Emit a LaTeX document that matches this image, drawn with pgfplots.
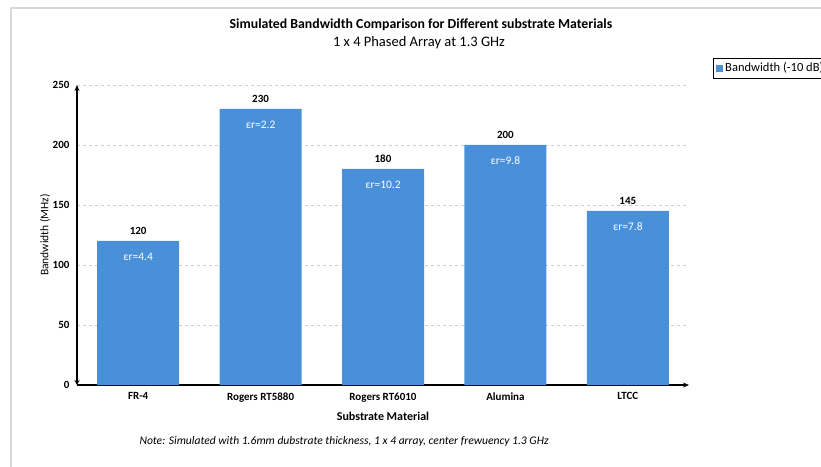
\documentclass[border=0pt]{standalone}
\usepackage{pgfplots}
\pgfplotsset{compat=1.18}
\usepackage{fontspec}
\setmainfont{Carlito}
\usetikzlibrary{arrows.meta}
\definecolor{barblue}{RGB}{74,144,217}
\definecolor{framegray}{RGB}{217,217,217}
\definecolor{gridgray}{RGB}{205,205,205}

\begin{document}
\begin{tikzpicture}[x=1pt,y=1pt]
\path[use as bounding box] (0,0) rectangle (821,466);
\clip (0,0) rectangle (821,466);
% outer chart frame
\draw[framegray, line width=1.2pt] (11,-5) -- (11,458) -- (830,458);

% titles
\node[font=\bfseries\fontsize{13.8}{15}\selectfont] at (421,441) {Simulated Bandwidth Comparison for Different substrate Materials};
\node[font=\fontsize{14.5}{16}\selectfont] at (419,423) {1 x 4 Phased Array at 1.3 GHz};

\begin{axis}[
  at={(77pt,81pt)}, anchor=south west,
  scale only axis, width=612pt, height=300pt,
  xmin=-0.5, xmax=4.5, ymin=0, ymax=250,
  ybar, bar width=82pt, bar shift=0pt,
  xtick={0,1,2,3,4},
  xticklabels={FR-4, Rogers RT5880, Rogers RT6010, Alumina, LTCC},
  ytick={0,50,100,150,200,250},
  axis lines=left,
  x axis line style={line width=1.1pt, -{Stealth[length=6pt,width=5pt]}},
  y axis line style={line width=1.1pt, {Stealth[length=5pt,width=5pt]}-{Stealth[length=6pt,width=5pt]}},
  major tick length=0pt,
  ymajorgrids, major grid style={gridgray, dashed, line width=0.5pt},
  /pgf/number format/assume math mode=true,
  ticklabel style={font=\bfseries\fontsize{11}{13}\selectfont},
  xticklabel style={yshift=-4pt},
  yticklabel style={xshift=-4pt},
  xlabel={\bfseries Substrate Material},
  xlabel style={font=\fontsize{12}{14}\selectfont, yshift=-3pt},
  ylabel={Bandwidth (MHz)},
  ylabel style={font=\fontsize{11.5}{13}\selectfont, yshift=-4pt},
  nodes near coords,
  nodes near coords style={font=\bfseries\fontsize{11}{13}\selectfont, black, yshift=3pt},
  legend style={at={(1.04,1.09)}, anchor=north west, draw=black, line width=0.5pt,
    font=\fontsize{12.5}{14}\selectfont, inner sep=2.5pt, row sep=0pt},
  legend image code/.code={\fill[barblue] (0pt,-3.5pt) rectangle (7pt,3.5pt);},
  clip=false,
]
\addplot[fill=barblue, draw=none] coordinates {(0,120) (1,230) (2,180) (3,200) (4,145)};
\addlegendentry{Bandwidth (-10 dB)}
% dielectric constant annotations inside the bars
\begin{scope}[every node/.style={white, font=\fontsize{11.5}{13}\selectfont}]
\node at (axis cs:0,120) [yshift=-16pt] {εr=4.4};
\node at (axis cs:1,230) [yshift=-16pt] {εr=2.2};
\node at (axis cs:2,180) [yshift=-16pt] {εr=10.2};
\node at (axis cs:3,200) [yshift=-16pt] {εr=9.8};
\node at (axis cs:4,145) [yshift=-16pt] {εr=7.8};
\end{scope}
\end{axis}

% footnote
\node[anchor=west, font=\itshape\fontsize{11.6}{13}\selectfont] at (136,25) {Note: Simulated with 1.6mm dubstrate thickness, 1 x 4 array, center frewuency 1.3 GHz};
\end{tikzpicture}
\end{document}
